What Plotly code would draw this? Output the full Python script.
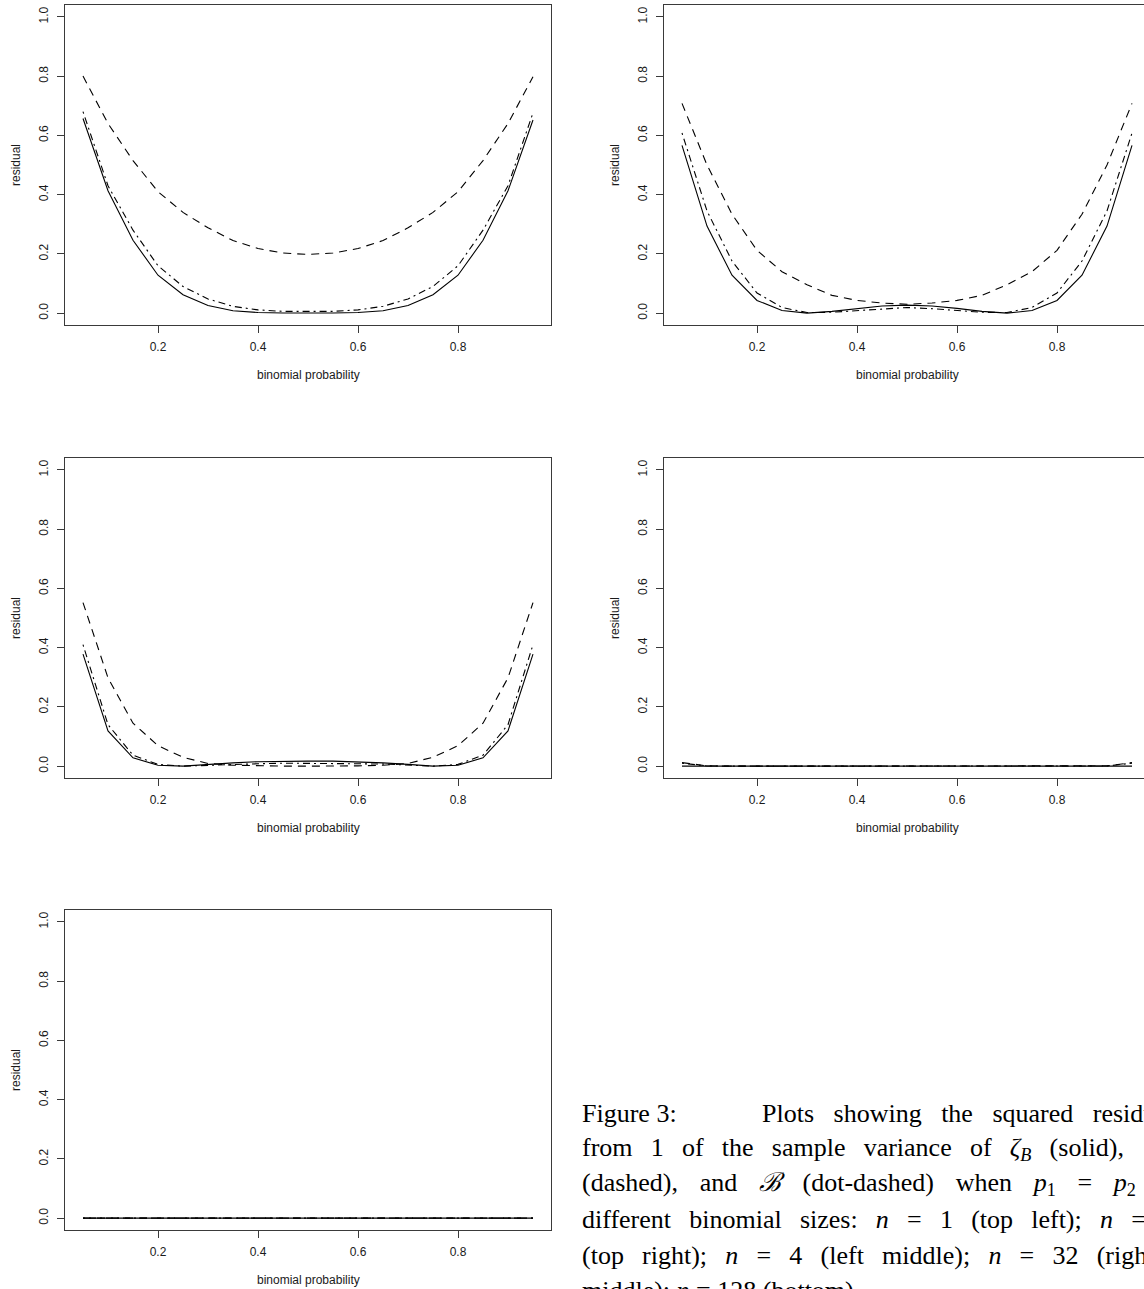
import plotly.graph_objects as go

# Page size in pixels
W, H = 1144, 1289

# Binomial probabilities on the x axis
p = [0.05, 0.10, 0.15, 0.20, 0.25, 0.30, 0.35, 0.40, 0.45, 0.50,
     0.55, 0.60, 0.65, 0.70, 0.75, 0.80, 0.85, 0.90, 0.95]

# n = 1
n1_solid = [0.657, 0.413, 0.246, 0.128, 0.062, 0.026, 0.008, 0.002, 0.0005, 0.0,
            0.0005, 0.002, 0.008, 0.026, 0.062, 0.128, 0.246, 0.413, 0.652]
n1_dashed = [0.800, 0.640, 0.515, 0.410, 0.340, 0.288, 0.245, 0.218, 0.203, 0.198,
             0.203, 0.218, 0.245, 0.288, 0.340, 0.410, 0.515, 0.640, 0.798]
n1_dotdash = [0.680, 0.430, 0.280, 0.160, 0.090, 0.048, 0.023, 0.011, 0.006, 0.005,
              0.006, 0.011, 0.023, 0.048, 0.090, 0.160, 0.280, 0.430, 0.676]

# n = 2
n2_solid = [0.566, 0.294, 0.128, 0.043, 0.009, 0.000, 0.006, 0.016, 0.024, 0.027,
            0.024, 0.016, 0.006, 0.000, 0.009, 0.043, 0.128, 0.294, 0.566]
n2_dashed = [0.708, 0.500, 0.334, 0.212, 0.140, 0.096, 0.060, 0.043, 0.034, 0.030,
             0.034, 0.043, 0.060, 0.096, 0.140, 0.212, 0.334, 0.500, 0.708]
n2_dotdash = [0.608, 0.345, 0.176, 0.068, 0.019, 0.002, 0.003, 0.008, 0.015, 0.019,
              0.015, 0.008, 0.003, 0.002, 0.019, 0.068, 0.176, 0.345, 0.608]

# n = 4
n4_solid = [0.378, 0.119, 0.028, 0.003, 0.000, 0.006, 0.011, 0.015, 0.017, 0.017,
            0.017, 0.015, 0.011, 0.006, 0.000, 0.003, 0.028, 0.119, 0.378]
n4_dashed = [0.552, 0.298, 0.145, 0.069, 0.030, 0.009, 0.003, 0.001, 0.000, 0.000,
             0.000, 0.001, 0.003, 0.009, 0.030, 0.069, 0.145, 0.298, 0.552]
n4_dotdash = [0.410, 0.140, 0.037, 0.006, 0.000, 0.003, 0.007, 0.008, 0.010, 0.010,
              0.010, 0.008, 0.007, 0.003, 0.000, 0.006, 0.037, 0.140, 0.410]

# n = 32
n32_solid = [0.0] * 19
n32_dashed = [0.012, 0.001, 0.0, 0.0, 0.0, 0.0, 0.0, 0.0, 0.0, 0.0,
              0.0, 0.0, 0.0, 0.0, 0.0, 0.0, 0.0, 0.001, 0.012]
n32_dotdash = [0.010, 0.0005, 0.0, 0.0, 0.0, 0.0, 0.0, 0.0, 0.0, 0.0,
               0.0, 0.0, 0.0, 0.0, 0.0, 0.0, 0.0, 0.0005, 0.010]

# n = 128
n128_solid = [0.0] * 19
n128_dashed = [0.0] * 19
n128_dotdash = [0.0] * 19

x_ticks = [0.2, 0.4, 0.6, 0.8]
x_ticklabels = ["0.2", "0.4", "0.6", "0.8"]
y_ticks = [0.0, 0.2, 0.4, 0.6, 0.8, 1.0]
y_ticklabels = ["0.0", "0.2", "0.4", "0.6", "0.8", "1.0"]

panels = [
    (n1_solid, n1_dashed, n1_dotdash),
    (n2_solid, n2_dashed, n2_dotdash),
    (n4_solid, n4_dashed, n4_dotdash),
    (n32_solid, n32_dashed, n32_dotdash),
    (n128_solid, n128_dashed, n128_dotdash),
]

# Panel boxes in pixels; the right column runs off the page edge
BOX_W = 486
BOX_H = 320
COLS = [65, 664]
ROWS = [5, 458, 910]
cells = [(0, 0), (1, 0), (0, 1), (1, 1), (0, 2)]

X_RANGE = [0.014, 0.986]
Y_RANGE = [-0.04, 1.04]
UNITS_PER_PX = (X_RANGE[1] - X_RANGE[0]) / BOX_W

SANS = "Liberation Sans, Arial, Helvetica, sans-serif"
SERIF = "Liberation Serif, Times New Roman, serif"
INK = "#1a1a1a"
FRAME = "#3a3a3a"

# solid, dashed, dot-dashed
styles = ["solid", "8px,6px", "2px,4px,7px,4px"]

fig = go.Figure()
layout = dict(
    width=W, height=H,
    margin=dict(l=0, r=0, t=0, b=0),
    paper_bgcolor="white", plot_bgcolor="white",
    showlegend=False,
    font=dict(family=SANS, size=12, color=INK),
)
annotations = []

for i, ((ci, ri), series) in enumerate(zip(cells, panels)):
    k = "" if i == 0 else str(i + 1)
    left = COLS[ci]
    right_full = left + BOX_W
    right = min(right_full, W)
    top = ROWS[ri]
    bottom = top + BOX_H
    xr = [X_RANGE[0], X_RANGE[0] + (right - left) * UNITS_PER_PX]

    for ys, dash in zip(series, styles):
        fig.add_trace(go.Scatter(
            x=p, y=ys, mode="lines", xaxis="x" + k, yaxis="y" + k,
            line=dict(color="black", width=1.1, dash=dash),
            hoverinfo="skip",
        ))

    clipped = right_full > W
    layout["xaxis" + k] = dict(
        domain=[left / W, right / W], range=xr, anchor="y" + k,
        showline=True, linecolor=FRAME, linewidth=1, mirror=True,
        ticks="outside", ticklen=7, tickcolor=FRAME, tickwidth=1,
        tickvals=x_ticks, ticktext=x_ticklabels,
        ticklabelstandoff=4,
        showgrid=False, zeroline=False, fixedrange=True,
        tickfont=dict(family=SANS, size=12, color=INK),
    )
    layout["yaxis" + k] = dict(
        domain=[1 - bottom / H, 1 - top / H], range=Y_RANGE, anchor="x" + k,
        showline=True, linecolor=FRAME, linewidth=1, mirror=(not clipped),
        ticks="outside", ticklen=7, tickcolor=FRAME, tickwidth=1,
        tickvals=y_ticks, ticktext=y_ticklabels, tickangle=-90,
        ticklabelstandoff=4,
        showgrid=False, zeroline=False, fixedrange=True,
        tickfont=dict(family=SANS, size=12, color=INK),
    )

    # axis titles
    annotations.append(dict(
        text="binomial probability", xref="paper", yref="paper",
        x=((left + right_full) / 2) / W, y=1 - (bottom + 50) / H,
        xanchor="center", yanchor="middle", showarrow=False,
        font=dict(family=SANS, size=12, color=INK),
    ))
    annotations.append(dict(
        text="residual", xref="paper", yref="paper",
        x=(left - 49) / W, y=1 - ((top + bottom) / 2) / H,
        xanchor="center", yanchor="middle", showarrow=False, textangle=-90,
        font=dict(family=SANS, size=12, color=INK),
    ))

# Figure caption, set as a justified paragraph (stretched inter-word gaps)
GAP_WIDE = "\u00a0\u00a0\u00a0"
GAP = "\u00a0\u00a0\u2009"
GAP_XWIDE = "\u00a0\u00a0\u00a0\u200a"
CAP_X = 580
CAP_Y0 = 1113
CAP_DY = 35.5

caption = [
    (0, CAP_X, "Figure 3:"),
    (0, 760, GAP_WIDE.join(["Plots", "showing", "the", "squared", "residuals"])),
    (1, CAP_X, GAP.join(["from", "1", "of", "the", "sample", "variance", "of",
                         "<i>ζ</i><sub><i>B</i></sub>", "(solid),"])),
    (2, CAP_X, GAP_XWIDE.join(["(dashed),", "and", "<i>ℬ</i>", "(dot-dashed)", "when",
                               "<i>p</i><sub>1</sub>", "=", "<i>p</i><sub>2</sub>"])),
    (3, CAP_X, GAP.join(["different", "binomial", "sizes:", "<i>n</i>", "=", "1",
                         "(top", "left);", "<i>n</i>", "="])),
    (4, CAP_X, GAP.join(["(top", "right);", "<i>n</i>", "=", "4", "(left",
                         "middle);", "<i>n</i>", "=", "32", "(right"])),
    (5, CAP_X, "middle); <i>n</i>\u00a0=\u00a0128 (bottom)."),
]
for li, cx, txt in caption:
    annotations.append(dict(
        text=txt, xref="paper", yref="paper",
        x=cx / W, y=1 - (CAP_Y0 + li * CAP_DY) / H,
        xanchor="left", yanchor="middle", showarrow=False,
        font=dict(family=SERIF, size=26, color="black"),
    ))

layout["annotations"] = annotations
fig.update_layout(**layout)
fig.write_html("out.html", config={"displayModeBar": False})
